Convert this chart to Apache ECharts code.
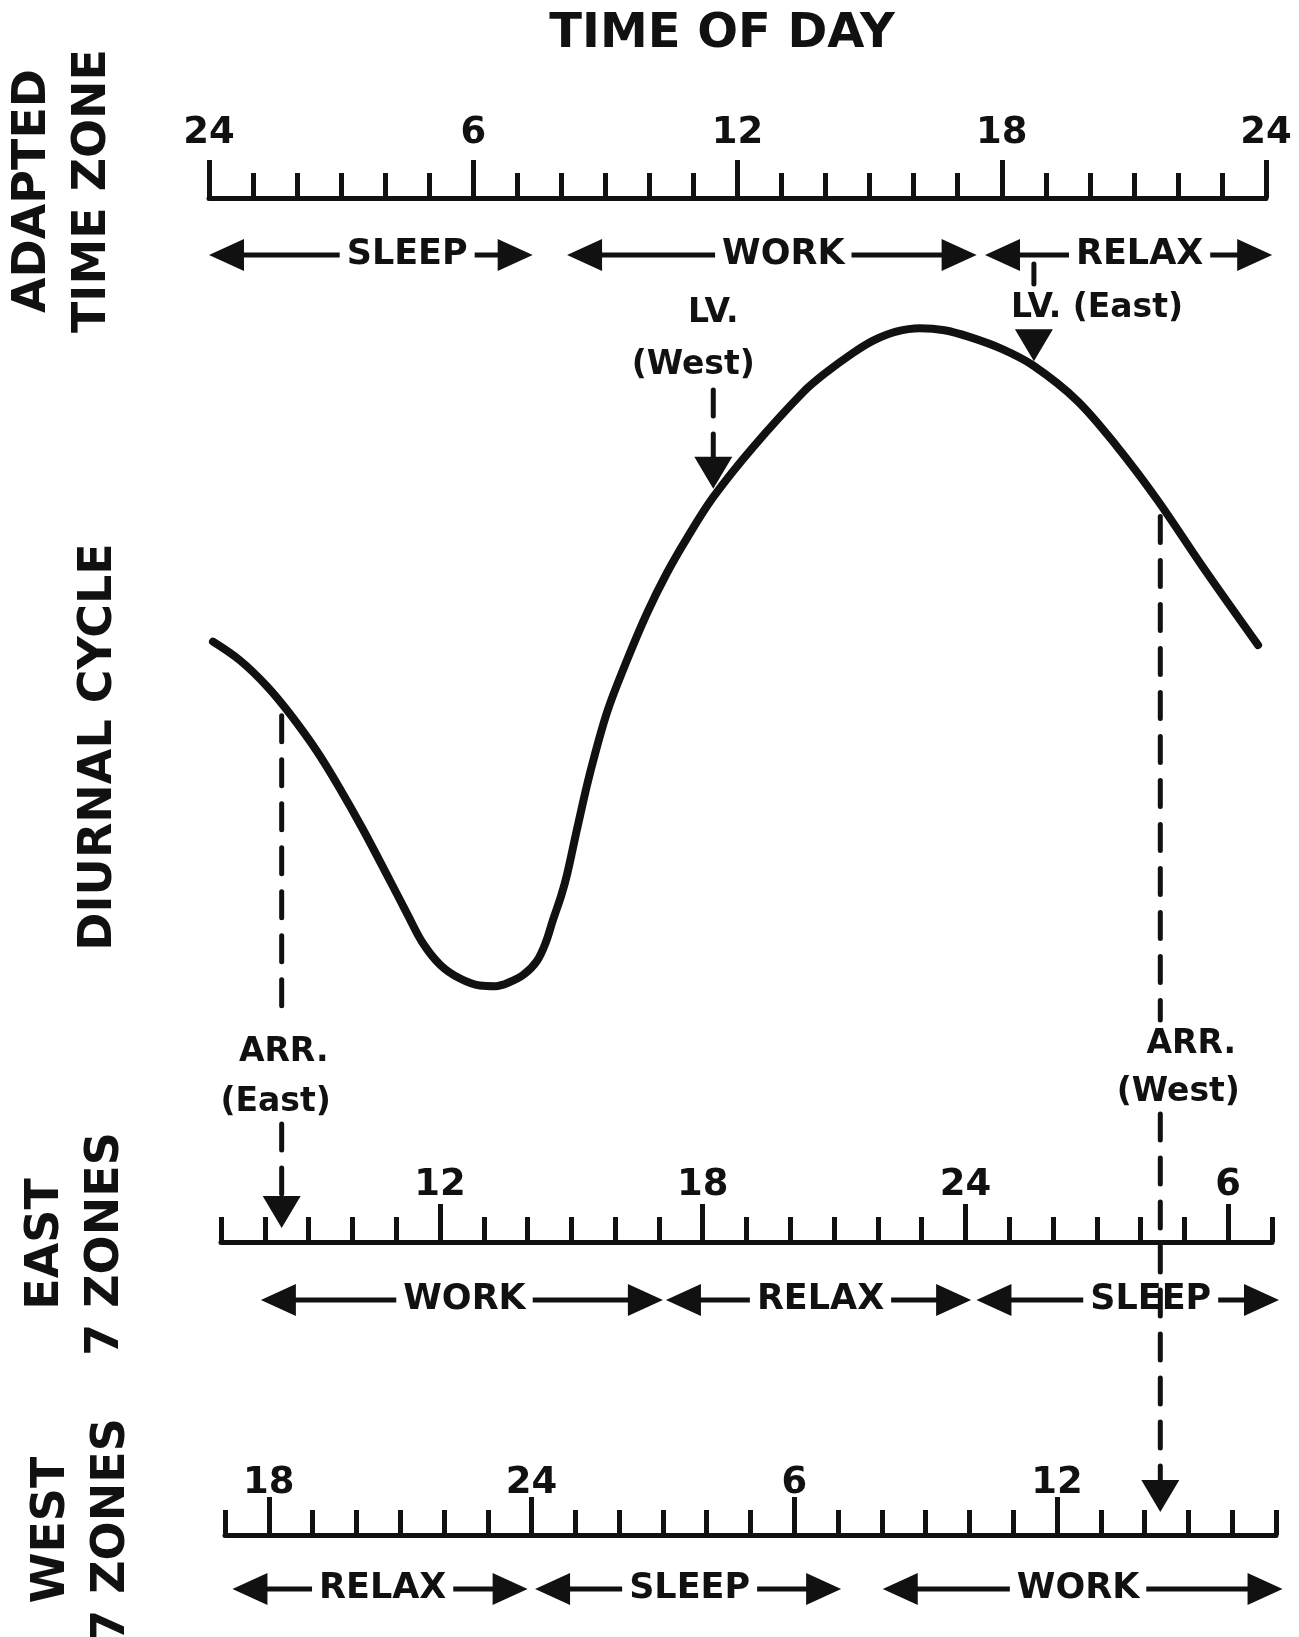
<!DOCTYPE html>
<html>
<head>
<meta charset="utf-8">
<script src="https://cdn.jsdelivr.net/npm/echarts@6/dist/echarts.min.js"></script>
<style>
html,body{margin:0;padding:0;background:#fff;}
#chart{width:1299px;height:1637px;}
</style>
</head>
<body>
<div id="chart"></div>
<script>
// diurnal cycle (hour of adapted zone, relative level 0-100)
var cycleHours  = [0.09,0.70,1.32,1.84,2.45,2.97,3.50,4.11,4.50,4.85,5.25,5.70,6.15,6.50,6.83,7.15,7.45,7.65,7.81,8.00,8.13,8.36,8.65,9.04,9.49,9.95,10.40,10.85,11.44,12.35,13.49,14.00,14.62,15.08,15.60,16.14,16.70,17.28,18.00,18.71,19.71,20.62,21.53,22.57,23.82];
var cycleLevels = [52.3,49.6,45.8,41.8,36.4,31.0,25.0,17.6,12.8,8.6,5.4,3.4,2.4,2.3,2.9,4.0,6.0,8.7,11.9,15.5,18.5,25.2,33.2,42.1,49.6,56.5,62.3,67.3,73.2,80.5,88.5,91.3,94.2,96.0,97.3,97.8,97.5,96.5,94.8,92.4,87.3,80.6,72.9,63.1,51.8];

// hour scales
var adaptedRange = [0, 24];
var eastRange = [7, 31];
var westRange = [17, 41];
var adaptedMajor = [0, 6, 12, 18, 24];
var eastMajor = [12, 18, 24, 30];
var westMajor = [18, 24, 30, 36];

// activity bands: [label, from, to, label at]
var adaptedSpans = [['SLEEP', 0.0, 7.35, 4.5], ['WORK', 8.13, 17.43, 13.04], ['RELAX', 17.62, 24.14, 21.13]];
var eastSpans = [['WORK', 7.91, 17.09, 12.56], ['RELAX', 17.16, 24.13, 20.69], ['SLEEP', 24.25, 31.16, 28.23]];
var westSpans = [['RELAX', 17.17, 23.91, 20.6], ['SLEEP', 24.08, 31.07, 27.61], ['WORK', 32.02, 41.15, 36.48]];

// leave / arrive points on the cycle: [hour, level]
var lvWest = [11.45, 73.2];
var lvEast = [18.73, 92.4];
var arrEast = [1.65, 43.0];
var arrWest = [21.6, 72.2];

var ink = '#111';
var face = 'DejaVu Sans';

function hourLabel(v) {
    var h = v % 24;
    return h === 0 ? '24' : String(h);
}

function hourAxis(grid, range) {
    return {
        type: 'value', gridIndex: grid, min: range[0], max: range[1], interval: 1, position: 'bottom',
        axisLine: {show: true, onZero: false, lineStyle: {color: ink, width: 5}},
        axisTick: {show: true, inside: true, length: 25, lineStyle: {color: ink, width: 5}},
        axisLabel: {show: false},
        splitLine: {show: false}
    };
}

function majorAxis(grid, range, majors, margin) {
    return {
        type: 'value', gridIndex: grid, min: range[0], max: range[1], position: 'bottom',
        axisLine: {show: false, onZero: false},
        axisTick: {show: true, inside: true, length: 38, customValues: majors, lineStyle: {color: ink, width: 5}},
        axisLabel: {
            show: true, inside: true, margin: margin, customValues: majors, formatter: hourLabel,
            color: ink, fontSize: 37, fontWeight: 'bold', fontFamily: face
        },
        splitLine: {show: false}
    };
}

function flatY(grid, min, max) {
    return {type: 'value', gridIndex: grid, min: min, max: max, show: false};
}

var chart = echarts.init(document.getElementById('chart'));

var option = {
    backgroundColor: '#fff',
    animation: false,
    grid: [
        {left: 209, width: 1057, top: 141, height: 57},
        {left: 209, width: 1057, top: 313, height: 689},
        {left: 221, width: 1051, top: 1184, height: 58},
        {left: 225, width: 1051, top: 1481, height: 54}
    ],
    xAxis: [
        hourAxis(0, adaptedRange),
        majorAxis(0, adaptedRange, adaptedMajor, 46),
        {type: 'value', gridIndex: 1, min: adaptedRange[0], max: adaptedRange[1], show: false},
        hourAxis(2, eastRange),
        majorAxis(2, eastRange, eastMajor, 38),
        hourAxis(3, westRange),
        majorAxis(3, westRange, westMajor, 33)
    ],
    yAxis: [flatY(0, 0, 1), flatY(1, 0, 100), flatY(2, 0, 1), flatY(3, 0, 1)],
    series: [
        {
            type: 'line',
            xAxisIndex: 2,
            yAxisIndex: 1,
            data: cycleHours.map(function (h, i) { return [h, cycleLevels[i]]; }),
            smooth: 0.35,
            symbol: 'none',
            lineStyle: {color: ink, width: 8, cap: 'round', join: 'round'}
        }
    ]
};
chart.setOption(option);

function toPx(xi, yi, x, y) {
    return chart.convertToPixel({xAxisIndex: xi, yAxisIndex: yi}, [x, y]);
}

function txt(x, y, s, size, align, rot) {
    return {
        type: 'text', x: x, y: y, rotation: rot || 0, z: 10,
        style: {
            text: s, fill: ink, fontSize: size, fontWeight: 'bold', fontFamily: face,
            align: align || 'center', verticalAlign: 'middle', lineHeight: size * 1.3
        }
    };
}

function headH(x, y, dir) {
    return {type: 'polygon', z: 5, shape: {points: [[x, y], [x - dir * 35, y - 16], [x - dir * 35, y + 16]]}, style: {fill: ink}};
}

function headDown(x, tipY) {
    return {type: 'polygon', z: 6, shape: {points: [[x, tipY], [x - 19, tipY - 32], [x + 19, tipY - 32]]}, style: {fill: ink}};
}

function dash(x, y1, y2) {
    return {type: 'line', z: 6, shape: {x1: x, y1: y1, x2: x, y2: y2}, style: {stroke: ink, lineWidth: 5, lineDash: [26, 18], lineCap: 'round'}};
}

var g = [];

function addSpans(xi, yi, spans) {
    spans.forEach(function (s) {
        var a = toPx(xi, yi, s[1], -1);
        var b = toPx(xi, yi, s[2], -1);
        var t = toPx(xi, yi, s[3], -1);
        g.push({type: 'line', z: 4, shape: {x1: a[0] + 20, y1: a[1], x2: b[0] - 20, y2: b[1]}, style: {stroke: ink, lineWidth: 5}});
        g.push(headH(a[0], a[1], -1));
        g.push(headH(b[0], b[1], 1));
        var label = txt(t[0], t[1], s[0], 35);
        label.style.backgroundColor = '#fff';
        label.style.padding = [0, 7];
        label.z = 5;
        g.push(label);
    });
}
addSpans(0, 0, adaptedSpans);
addSpans(3, 2, eastSpans);
addSpans(5, 3, westSpans);

// leave (west): label above, arrow down onto curve
var p = toPx(2, 1, lvWest[0], lvWest[1]);
g.push(txt(p[0], 313, 'LV.', 33));
g.push(txt(p[0] - 20, 365, '(West)', 33));
g.push(dash(p[0], 390, p[1] - 40));
g.push(headDown(p[0], p[1] - 9));

// leave (east)
p = toPx(2, 1, lvEast[0], lvEast[1]);
g.push(dash(p[0], 264, 284));
g.push(txt(p[0] - 23, 308, 'LV. (East)', 33, 'left'));
g.push(headDown(p[0], p[1] - 4));

// arrive (east): from curve down to the east scale
p = toPx(2, 1, arrEast[0], arrEast[1]);
var eastBase = toPx(3, 2, eastRange[0], 0)[1];
g.push(dash(p[0], p[1] + 10, 1020));
g.push(txt(p[0] + 2, 1052, 'ARR.', 33));
g.push(txt(p[0] - 6, 1102, '(East)', 33));
g.push(dash(p[0], 1124, eastBase - 46));
g.push(headDown(p[0], eastBase - 14));

// arrive (west): from curve down to the west scale
p = toPx(2, 1, arrWest[0], arrWest[1]);
var westBase = toPx(5, 3, westRange[0], 0)[1];
g.push(dash(p[0], p[1] + 12, 1020));
g.push(txt(p[0] + 31, 1044, 'ARR.', 33));
g.push(txt(p[0] + 18, 1092, '(West)', 33));
g.push(dash(p[0], 1114, westBase - 56));
g.push(headDown(p[0], westBase - 23));

// titles
g.push(txt(722, 35, 'TIME OF DAY', 48));
g.push(txt(63, 191, 'ADAPTED\nTIME ZONE', 46, 'center', Math.PI / 2));
g.push(txt(99, 747, 'DIURNAL CYCLE', 46, 'center', Math.PI / 2));
g.push(txt(76, 1244, 'EAST\n7 ZONES', 46, 'center', Math.PI / 2));
g.push(txt(82, 1530, 'WEST\n7 ZONES', 46, 'center', Math.PI / 2));

chart.setOption({graphic: g});
</script>
</body>
</html>
